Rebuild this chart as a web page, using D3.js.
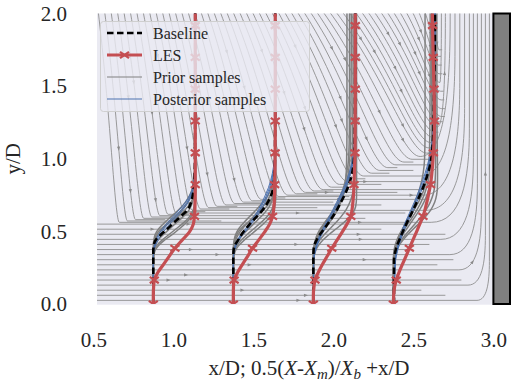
<!DOCTYPE html>
<html>
<head>
<meta charset="utf-8">
<script src="https://cdn.jsdelivr.net/npm/d3@7"></script>
<style>
  body { margin: 0; background: #fff; }
  svg { display: block; }
  svg text { font-family: "Liberation Serif", "Times New Roman", Tinos, "Nimbus Roman", "DejaVu Serif", serif !important; }
</style>
</head>
<body>
<div id="chart"></div>
<script>
/* CONSTANTS AND GLOBALS */
const width = 515, height = 385;
const plotLeft = 97, plotRight = 511, plotTop = 13.5, plotBottom = 304;

/* DATA */
// profile stations (x/D where the offset is zero)
const stations = [0.875, 1.375, 1.875, 2.375];

// LES profiles: y/D and offset 0.5(X-Xm)/Xb
const lesY = [0, 0.06, 0.12, 0.165, 0.22, 0.275, 0.33, 0.384, 0.44, 0.495, 0.55, 0.603, 0.66, 0.71, 0.77, 0.822, 0.93, 1.041, 1.26, 1.479, 1.698, 1.917, 2.136];
const lesMarkY = [0, 0.165, 0.384, 0.603, 0.822, 1.041, 1.26, 1.479, 1.698, 1.917, 2.136];
const lesU = [
  [0, 0, 0.002, 0.006, 0.03, 0.065, 0.1, 0.135, 0.18, 0.225, 0.25, 0.257, 0.26, 0.261, 0.262, 0.262, 0.262, 0.262, 0.262, 0.262, 0.262, 0.262, 0.262],
  [0, 0, 0.001, 0.005, 0.028, 0.058, 0.09, 0.12, 0.158, 0.195, 0.227, 0.245, 0.253, 0.256, 0.258, 0.258, 0.26, 0.261, 0.262, 0.262, 0.262, 0.262, 0.262],
  [0, 0, 0.004, 0.01, 0.032, 0.058, 0.087, 0.115, 0.148, 0.18, 0.21, 0.234, 0.243, 0.248, 0.252, 0.254, 0.257, 0.26, 0.261, 0.262, 0.262, 0.262, 0.262],
  [0, 0.002, 0.008, 0.018, 0.036, 0.057, 0.079, 0.1, 0.122, 0.144, 0.165, 0.185, 0.2, 0.211, 0.223, 0.232, 0.243, 0.25, 0.257, 0.254, 0.249, 0.245, 0.243]
];

// model profiles (baseline, prior and posterior samples) share one y grid
const modelY = [0, 0.3, 0.36, 0.4, 0.44, 0.48, 0.52, 0.56, 0.6, 0.65, 0.7, 0.75, 0.8, 0.9, 1.0, 1.2, 1.5, 2.0, 2.2];
const baselineU = [
  [0, 0, 0, 0.002, 0.015, 0.05, 0.09, 0.128, 0.168, 0.215, 0.236, 0.247, 0.253, 0.258, 0.26, 0.261, 0.262, 0.262, 0.262],
  [0, 0, 0.001, 0.008, 0.03, 0.052, 0.08, 0.11, 0.145, 0.185, 0.215, 0.237, 0.249, 0.257, 0.26, 0.261, 0.262, 0.262, 0.262],
  [0, 0, 0.001, 0.005, 0.02, 0.042, 0.069, 0.095, 0.12, 0.148, 0.172, 0.195, 0.215, 0.242, 0.254, 0.259, 0.261, 0.262, 0.262],
  [0.004, 0.004, 0.012, 0.022, 0.037, 0.052, 0.068, 0.085, 0.103, 0.125, 0.146, 0.166, 0.185, 0.216, 0.237, 0.25, 0.255, 0.26, 0.26]
];
const priorU = [
  [
    [0, 0, 0.004, 0.02, 0.055, 0.1, 0.145, 0.19, 0.225, 0.25, 0.258, 0.261, 0.262, 0.262, 0.262, 0.262, 0.262, 0.262, 0.262],
    [0, 0, 0, 0, 0.003, 0.012, 0.035, 0.07, 0.11, 0.16, 0.2, 0.228, 0.245, 0.256, 0.26, 0.262, 0.262, 0.262, 0.262],
    [0, 0, 0.002, 0.01, 0.03, 0.065, 0.105, 0.145, 0.185, 0.225, 0.245, 0.255, 0.259, 0.261, 0.262, 0.262, 0.262, 0.262, 0.262],
    [0, 0, 0, 0.003, 0.012, 0.03, 0.06, 0.095, 0.135, 0.18, 0.215, 0.238, 0.25, 0.258, 0.261, 0.262, 0.262, 0.262, 0.262],
    [0, 0, 0, 0.002, 0.006, 0.02, 0.05, 0.1, 0.15, 0.2, 0.235, 0.252, 0.258, 0.261, 0.262, 0.262, 0.262, 0.262, 0.262],
    [0, 0.001, 0.008, 0.03, 0.07, 0.12, 0.165, 0.205, 0.235, 0.255, 0.262, 0.265, 0.266, 0.265, 0.264, 0.263, 0.263, 0.263, 0.263]
  ],
  [
    [0, 0, 0.005, 0.022, 0.05, 0.088, 0.13, 0.172, 0.21, 0.24, 0.255, 0.26, 0.262, 0.262, 0.262, 0.262, 0.262, 0.262, 0.262],
    [0, 0, 0, 0.001, 0.005, 0.015, 0.035, 0.065, 0.1, 0.145, 0.185, 0.218, 0.24, 0.255, 0.26, 0.262, 0.262, 0.262, 0.262],
    [0, 0, 0.002, 0.012, 0.032, 0.062, 0.098, 0.135, 0.172, 0.212, 0.238, 0.252, 0.258, 0.261, 0.262, 0.262, 0.262, 0.262, 0.262],
    [0, 0, 0.001, 0.004, 0.014, 0.032, 0.058, 0.09, 0.125, 0.168, 0.205, 0.232, 0.248, 0.258, 0.261, 0.262, 0.262, 0.262, 0.262],
    [0, 0, 0, 0.002, 0.008, 0.022, 0.048, 0.09, 0.138, 0.19, 0.228, 0.25, 0.258, 0.261, 0.262, 0.262, 0.262, 0.262, 0.262],
    [0, 0.002, 0.01, 0.032, 0.068, 0.112, 0.155, 0.195, 0.228, 0.253, 0.263, 0.266, 0.267, 0.266, 0.265, 0.264, 0.264, 0.264, 0.264]
  ],
  [
    [0, 0, 0.003, 0.012, 0.028, 0.05, 0.075, 0.1, 0.125, 0.152, 0.172, 0.187, 0.197, 0.205, 0.208, 0.21, 0.21, 0.21, 0.21],
    [0, 0.002, 0.012, 0.03, 0.06, 0.1, 0.145, 0.19, 0.228, 0.258, 0.268, 0.27, 0.27, 0.27, 0.27, 0.27, 0.27, 0.27, 0.27],
    [0, 0, 0.002, 0.008, 0.02, 0.038, 0.06, 0.085, 0.11, 0.14, 0.165, 0.185, 0.2, 0.218, 0.228, 0.234, 0.236, 0.237, 0.237],
    [0, 0, 0, 0.004, 0.012, 0.025, 0.045, 0.07, 0.097, 0.13, 0.16, 0.185, 0.205, 0.228, 0.24, 0.246, 0.248, 0.248, 0.248],
    [0, 0.001, 0.006, 0.018, 0.04, 0.07, 0.105, 0.14, 0.172, 0.205, 0.228, 0.243, 0.252, 0.258, 0.26, 0.26, 0.26, 0.26, 0.26],
    [0, 0, 0.001, 0.006, 0.016, 0.032, 0.052, 0.076, 0.1, 0.128, 0.152, 0.172, 0.188, 0.208, 0.22, 0.225, 0.226, 0.226, 0.226]
  ],
  [
    [0, 0.002, 0.006, 0.014, 0.026, 0.042, 0.06, 0.078, 0.095, 0.116, 0.135, 0.152, 0.166, 0.186, 0.195, 0.198, 0.198, 0.198, 0.198],
    [0, 0.004, 0.016, 0.034, 0.06, 0.092, 0.128, 0.165, 0.2, 0.235, 0.258, 0.27, 0.275, 0.276, 0.275, 0.273, 0.272, 0.272, 0.272],
    [0, 0.002, 0.008, 0.02, 0.038, 0.06, 0.085, 0.11, 0.135, 0.165, 0.19, 0.21, 0.224, 0.238, 0.244, 0.247, 0.248, 0.248, 0.248],
    [0, 0, 0.003, 0.01, 0.022, 0.038, 0.058, 0.08, 0.102, 0.13, 0.156, 0.178, 0.195, 0.215, 0.224, 0.228, 0.23, 0.23, 0.23],
    [0, 0.003, 0.012, 0.028, 0.05, 0.078, 0.11, 0.142, 0.172, 0.205, 0.23, 0.247, 0.257, 0.263, 0.264, 0.264, 0.263, 0.262, 0.262],
    [0, 0.001, 0.005, 0.015, 0.03, 0.05, 0.072, 0.096, 0.12, 0.148, 0.172, 0.192, 0.207, 0.226, 0.236, 0.24, 0.24, 0.24, 0.24]
  ]
];
const posteriorU = [
  [
    [0, 0, 0.002, 0.008, 0.022, 0.042, 0.068, 0.1, 0.135, 0.175, 0.21, 0.235, 0.25, 0.258, 0.261, 0.262, 0.262, 0.262, 0.262],
    [0, 0, 0.003, 0.012, 0.03, 0.052, 0.08, 0.112, 0.146, 0.186, 0.218, 0.24, 0.252, 0.259, 0.261, 0.262, 0.262, 0.262, 0.262],
    [0, 0, 0.001, 0.005, 0.016, 0.034, 0.058, 0.088, 0.122, 0.163, 0.2, 0.228, 0.246, 0.257, 0.26, 0.262, 0.262, 0.262, 0.262]
  ],
  [
    [0, 0, 0.004, 0.014, 0.03, 0.055, 0.085, 0.112, 0.138, 0.165, 0.188, 0.208, 0.226, 0.248, 0.258, 0.261, 0.262, 0.262, 0.262],
    [0, 0, 0.005, 0.017, 0.035, 0.061, 0.091, 0.119, 0.146, 0.174, 0.197, 0.216, 0.232, 0.251, 0.259, 0.261, 0.262, 0.262, 0.262],
    [0, 0, 0.003, 0.011, 0.025, 0.048, 0.077, 0.104, 0.13, 0.157, 0.18, 0.2, 0.219, 0.244, 0.256, 0.261, 0.262, 0.262, 0.262]
  ],
  [
    [0, 0.002, 0.01, 0.02, 0.032, 0.048, 0.066, 0.086, 0.106, 0.13, 0.153, 0.176, 0.197, 0.228, 0.248, 0.259, 0.261, 0.262, 0.262],
    [0, 0.002, 0.012, 0.023, 0.036, 0.053, 0.072, 0.093, 0.114, 0.139, 0.162, 0.184, 0.204, 0.233, 0.251, 0.26, 0.261, 0.262, 0.262],
    [0, 0.001, 0.008, 0.017, 0.028, 0.043, 0.06, 0.079, 0.099, 0.122, 0.145, 0.168, 0.19, 0.223, 0.245, 0.258, 0.261, 0.262, 0.262]
  ],
  [
    [0.004, 0.012, 0.022, 0.03, 0.04, 0.052, 0.065, 0.08, 0.097, 0.118, 0.138, 0.157, 0.174, 0.205, 0.228, 0.25, 0.256, 0.26, 0.26],
    [0.004, 0.014, 0.025, 0.034, 0.045, 0.058, 0.072, 0.088, 0.105, 0.126, 0.146, 0.165, 0.182, 0.212, 0.233, 0.252, 0.257, 0.26, 0.26],
    [0.004, 0.01, 0.019, 0.027, 0.036, 0.047, 0.059, 0.073, 0.09, 0.11, 0.13, 0.149, 0.166, 0.198, 0.223, 0.248, 0.255, 0.26, 0.26]
  ]
];

// background streamlines
// lines entering at the left edge and running level near the floor
const lowerLevels = [0.025, 0.06, 0.095, 0.13, 0.165, 0.2, 0.235, 0.27, 0.305, 0.34, 0.375, 0.41, 0.445, 0.48, 0.515, 0.55];
const lowerEnd = [2.975, 2.7, 2.55, 2.95, 2.8, 2.4, 2.925, 2.65, 2.75, 2.9, 2.5, 2.6, 2.875, 2.7, 2.3, 2.45];
const lowerTurn = [1, 0, 0, 1, 0, 0, 1, 0, 0, 1, 0, 0, 1, 0, 0, 0];
// lines entering through the top edge, bending down-stream
const descTopX = [0.53, 0.57, 0.61, 0.65, 0.69, 0.73, 0.77, 0.81, 0.85, 0.89, 0.93, 0.97, 1.01, 1.05, 1.09, 1.13, 1.17, 1.21, 1.25, 1.29, 1.33, 1.37, 1.41, 1.45, 1.49, 1.53, 1.57, 1.61, 1.65, 1.69, 1.73, 1.77, 1.81, 1.85, 1.89, 1.93, 1.97, 2.01, 2.05, 2.09, 2.13, 2.17, 2.21, 2.25, 2.29, 2.33, 2.37, 2.41, 2.45, 2.49, 2.53, 2.57, 2.61];
const descEnd = [2.85, 1.3, 0.95, 2.2, 1.05, 1.6, 1.1, 2.45, 1.2, 2.82, 1.35, 1.9, 1.4, 2.3, 1.55, 2.0, 1.6, 2.6, 1.7, 2.1, 2.79, 1.9, 2.4, 2.0, 2.55, 2.1, 2.3, 2.62, 2.2, 2.76, 2.35, 2.5, 2.4, 2.62, 2.5, 2.6, 2.73, 2.62, 2.6, 2.63, 2.62, 2.64, 2.70, 2.64, 2.63, 2.64, 2.64, 2.65, 2.675, 2.65, 2.65, 2.66, 2.66];
const descTurn = [1, 0, 0, 0, 0, 0, 0, 0, 0, 1, 0, 0, 0, 0, 0, 0, 0, 0, 0, 0, 1, 0, 0, 0, 0, 0, 0, 0, 0, 1, 0, 0, 0, 0, 0, 0, 1, 0, 0, 0, 0, 0, 1, 0, 0, 0, 0, 0, 1, 0, 0, 0, 0];
// where the descending lines level off, and how far right they drift while descending
const bendTopX = [0.52, 1.0, 1.5, 2.0, 2.3, 2.6];
const bendLevel = [0.56, 0.67, 0.79, 1.03, 1.3, 1.75];
const bendSpan = [0.13, 0.26, 0.45, 0.58, 0.38, 0.05];

const xTicks = [0.5, 1.0, 1.5, 2.0, 2.5, 3.0];
const yTicks = [0.0, 0.5, 1.0, 1.5, 2.0];
const wallX = [3.0, 3.11];

const colors = { les: "#c44e52", base: "#000000", prior: "#808080", post: "#4c72b0", bg: "#eaeaf2", text: "#262626" };

/* SCALES */
const x = d3.scaleLinear().domain([0.5 + (plotLeft - 93.3) / 160, 3.11]).range([plotLeft, plotRight]);
const y = d3.scaleLinear().domain([0, 2]).range([plotBottom, plotTop]);
const levelOf = d3.scaleLinear().domain(bendTopX).range(bendLevel).clamp(true);
const spanOf = d3.scaleLinear().domain(bendTopX).range(bendSpan).clamp(true);
const turnRun = d3.scaleLinear().domain([0, 0.6, 1.2, 1.8]).range([0.07, 0.25, 0.18, 0.06]).clamp(true);

/* HTML ELEMENTS */
const svg = d3.select("#chart").append("svg")
  .attr("width", width)
  .attr("height", height);

svg.append("defs").append("clipPath").attr("id", "plotclip")
  .append("rect")
  .attr("x", plotLeft).attr("y", plotTop)
  .attr("width", plotRight - plotLeft).attr("height", plotBottom - plotTop);

svg.append("rect")
  .attr("x", plotLeft).attr("y", plotTop)
  .attr("width", plotRight - plotLeft).attr("height", plotBottom - plotTop + 0.7)
  .attr("fill", colors.bg);

const plot = svg.append("g").attr("clip-path", "url(#plotclip)");

// streamlines
function streamPath(xs, h, d, xEnd, turn) {
  const p = d3.path();
  let xFlat;
  if (xs == null) {
    xFlat = x.domain()[0] - 0.02;
    p.moveTo(x(xFlat), y(h));
  } else {
    p.moveTo(x(xs), y(2.02));
    p.bezierCurveTo(x(xs + 0.55 * d), y(h + 0.55 * (2 - h)), x(xs + 0.8 * d), y(h), x(xs + d), y(h));
    xFlat = xs + d;
  }
  if (turn) {
    const r = Math.max(0.008, Math.min(turnRun(h), xEnd - xFlat));
    const k = Math.min(0.25 + 0.7 * h, 2.02 - h);
    p.lineTo(x(xEnd - r), y(h));
    p.bezierCurveTo(x(xEnd - 0.2 * r), y(h), x(xEnd), y(h + 0.45 * k), x(xEnd), y(h + k));
    p.lineTo(x(xEnd), y(2.02));
  } else {
    p.lineTo(x(Math.max(xEnd, xFlat + 0.02)), y(h));
  }
  return p.toString();
}

const streams = [];
lowerLevels.forEach((h, i) => streams.push(streamPath(null, h, 0, lowerEnd[i], lowerTurn[i])));
descTopX.forEach((xs, i) => streams.push(streamPath(xs, levelOf(xs), spanOf(xs), descEnd[i], descTurn[i])));

const streamG = plot.append("g");
streamG.selectAll("path")
  .data(streams)
  .join("path")
  .attr("d", d => d)
  .attr("fill", "none")
  .attr("stroke", "#8e8e8e")
  .attr("stroke-width", 0.9);

// small arrow heads along the streamlines
const arrowFrac = [0.3, 0.6, 0.45, 0.75, 0.2];
streamG.selectAll("path").each(function (d, i) {
  const L = this.getTotalLength();
  const s = L * arrowFrac[i % arrowFrac.length];
  const p0 = this.getPointAtLength(Math.max(0, s - 1));
  const p1 = this.getPointAtLength(Math.min(L, s + 1));
  const ang = Math.atan2(p1.y - p0.y, p1.x - p0.x) * 180 / Math.PI;
  streamG.append("path")
    .attr("d", "M2.2,0L-1.8,-1.6L-1.8,1.6Z")
    .attr("transform", `translate(${p1.x},${p1.y}) rotate(${ang})`)
    .attr("fill", "#8a8a8a");
});

// wall
svg.append("rect")
  .attr("x", x(wallX[0])).attr("y", plotTop)
  .attr("width", x(wallX[1]) - x(wallX[0]) - 1).attr("height", plotBottom - plotTop)
  .attr("fill", "#808080")
  .attr("stroke", "#000")
  .attr("stroke-width", 2);

// profiles
const profLine = x0 => d3.line()
  .x(d => x(x0 + d[1]))
  .y(d => y(d[0]))
  .curve(d3.curveMonotoneY);

const profG = plot.append("g");
stations.forEach((x0, k) => {
  priorU[k].forEach(u => {
    profG.append("path")
      .attr("d", profLine(x0)(modelY.map((v, i) => [v, u[i]])))
      .attr("fill", "none").attr("stroke", colors.prior).attr("stroke-width", 1.5);
  });
});
stations.forEach((x0, k) => {
  posteriorU[k].forEach(u => {
    profG.append("path")
      .attr("d", profLine(x0)(modelY.map((v, i) => [v, u[i]])))
      .attr("fill", "none").attr("stroke", colors.post).attr("stroke-width", 1);
  });
});
stations.forEach((x0, k) => {
  profG.append("path")
    .attr("d", profLine(x0)(modelY.map((v, i) => [v, baselineU[k][i]])))
    .attr("fill", "none").attr("stroke", colors.base)
    .attr("stroke-width", 2.6).attr("stroke-dasharray", "6.5,3.5");
});
const xMark = "M-4.5,-3.2L4.5,3.2M-4.5,3.2L4.5,-3.2";
stations.forEach((x0, k) => {
  const pts = lesY.map((v, i) => [v, lesU[k][i]]);
  profG.append("path")
    .attr("d", profLine(x0)(pts))
    .attr("fill", "none").attr("stroke", colors.les).attr("stroke-width", 3.2);
  profG.selectAll(null)
    .data(pts.filter(p => lesMarkY.includes(p[0])))
    .join("path")
    .attr("d", xMark)
    .attr("transform", d => `translate(${x(x0 + d[1])},${y(d[0])})`)
    .attr("stroke", colors.les).attr("stroke-width", 2.2).attr("fill", "none");
});

/* AXES */
const xAxis = d3.axisBottom(x).tickValues(xTicks).tickFormat(d3.format(".1f")).tickSize(0).tickPadding(28);
const yAxis = d3.axisLeft(y).tickValues(yTicks).tickFormat(d3.format(".1f")).tickSize(0).tickPadding(30);
svg.append("g").attr("transform", `translate(0,${plotBottom})`).call(xAxis)
  .attr("font-family", null)
  .call(g => g.select(".domain").remove())
  .selectAll("text").attr("font-size", 21).attr("fill", colors.text);
svg.append("g").attr("transform", `translate(${plotLeft},0)`).call(yAxis)
  .attr("font-family", null)
  .call(g => g.select(".domain").remove())
  .selectAll("text").attr("font-size", 21).attr("fill", colors.text);

const xl = svg.append("text")
  .attr("x", (plotLeft + plotRight) / 2 + 5).attr("y", 375)
  .attr("text-anchor", "middle").attr("font-size", 21).attr("fill", colors.text);
xl.append("tspan").text("x/D; 0.5(");
xl.append("tspan").attr("font-style", "italic").text("X");
xl.append("tspan").text("-");
xl.append("tspan").attr("font-style", "italic").text("X");
xl.append("tspan").attr("font-style", "italic").attr("font-size", 15).attr("dy", 4).text("m");
xl.append("tspan").attr("dy", -4).text(")/");
xl.append("tspan").attr("font-style", "italic").text("X");
xl.append("tspan").attr("font-style", "italic").attr("font-size", 15).attr("dy", 4).text("b");
xl.append("tspan").attr("dy", -4).text(" +x/D");

svg.append("text")
  .attr("transform", `translate(20,${(plotTop + plotBottom) / 2}) rotate(-90)`)
  .attr("text-anchor", "middle").attr("font-size", 21).attr("fill", colors.text)
  .text("y/D");

/* LEGEND */
const legend = svg.append("g");
legend.append("rect")
  .attr("x", 100.5).attr("y", 21.5).attr("width", 209).attr("height", 90).attr("rx", 3)
  .attr("fill", colors.bg).attr("fill-opacity", 0.8)
  .attr("stroke", "#cfcfcf").attr("stroke-width", 1);
const entries = [
  { label: "Baseline", color: colors.base, w: 2.6, dash: "6.5,3.5" },
  { label: "LES", color: colors.les, w: 3.2, mark: true },
  { label: "Prior samples", color: colors.prior, w: 1 },
  { label: "Posterior samples", color: colors.post, w: 1 }
];
entries.forEach((e, i) => {
  const cy = 33 + i * 22;
  legend.append("line")
    .attr("x1", 107).attr("x2", 142).attr("y1", cy).attr("y2", cy)
    .attr("stroke", e.color).attr("stroke-width", e.w)
    .attr("stroke-dasharray", e.dash || null);
  if (e.mark) {
    legend.append("path").attr("d", xMark)
      .attr("transform", `translate(124.5,${cy})`)
      .attr("stroke", e.color).attr("stroke-width", 2.2);
  }
  legend.append("text")
    .attr("x", 153).attr("y", cy + 5.5)
    .attr("font-size", 16).attr("fill", colors.text)
    .text(e.label);
});
</script>
</body>
</html>
